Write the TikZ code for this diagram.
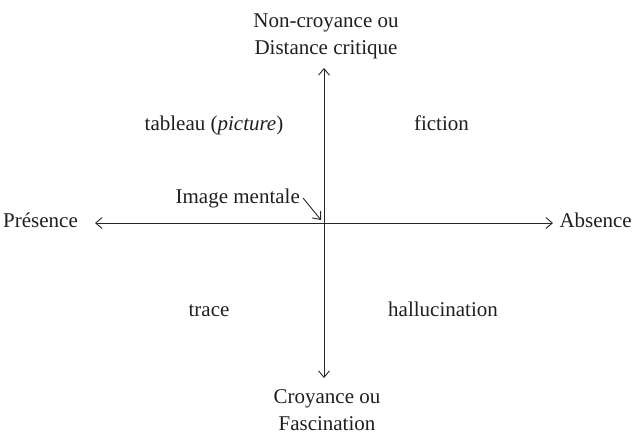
\documentclass[tikz,border=0pt]{standalone}
\usepackage{fontspec}
\setmainfont{Liberation Serif}
\usetikzlibrary{arrows.meta}
\begin{document}
\begin{tikzpicture}[x=1pt,y=-1pt,
  lbl/.style={inner sep=0pt,font=\fontsize{21}{26.5}\selectfont,text=black!88},
  axis/.style={line width=0.9pt,draw=black!85,{Straight Barb[length=6.5pt,width=11pt]}-{Straight Barb[length=6.5pt,width=11pt]}},
  pointer/.style={line width=0.9pt,draw=black!85,-{Straight Barb[length=6.5pt,width=11pt]}}]
\useasboundingbox (0,0) rectangle (633,434);
% axis end points
\coordinate (L) at (95,223);
\coordinate (R) at (553,223);
\coordinate (T) at (324,68);
\coordinate (B) at (324,378);
\coordinate (O) at (321,220);
% labels
\node[lbl,anchor=base,align=center] (top) at (326,54) {Non-croyance ou\\Distance critique};
\node[lbl,anchor=base,align=center] (bot) at (327,430) {Croyance ou\\Fascination};
\node[lbl,anchor=base west] (pres) at (3,227) {Présence};
\node[lbl,anchor=base east] (abs) at (632,227) {Absence};
\node[lbl,anchor=base] (tab) at (214,130) {tableau (\textit{picture})};
\node[lbl,anchor=base] (fic) at (441.5,130) {fiction};
\node[lbl,anchor=base] (tra) at (209,316) {trace};
\node[lbl,anchor=base] (hal) at (443,316) {hallucination};
\node[lbl,anchor=base east] (im) at (300,203) {Image mentale};
% axes
\draw[axis] (L) -- (R);
\draw[axis] (B) -- (T);
\draw[pointer] ([xshift=3pt]im.east) -- (O);
\end{tikzpicture}
\end{document}
